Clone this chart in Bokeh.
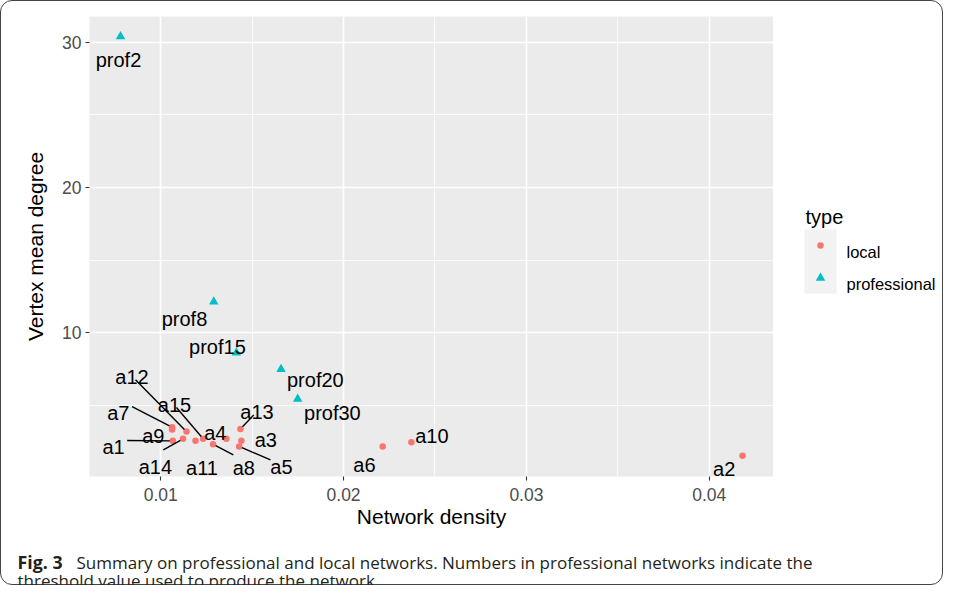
from bokeh.plotting import figure
from bokeh.layouts import column, row
from bokeh.models import Range1d, FixedTicker, ColumnDataSource
from bokeh.core.properties import value
from bokeh.embed import file_html
from bokeh.resources import INLINE

# ---------------- data ----------------
local_names = ["a1", "a2", "a3", "a4", "a5", "a6", "a7", "a8", "a9", "a10",
               "a11", "a12", "a13", "a14", "a15"]
local_density = [0.01066, 0.04182, 0.01441, 0.01359, 0.01429, 0.02214, 0.01062,
                 0.01286, 0.01062, 0.02371, 0.01190, 0.01141, 0.01436, 0.01122,
                 0.01232]
local_degree = [2.58, 1.55, 2.58, 2.72, 2.19, 2.19, 3.51, 2.35, 3.37, 2.49,
                2.58, 3.22, 3.40, 2.72, 2.72]

prof_names = ["prof2", "prof8", "prof15", "prof20", "prof30"]
prof_density = [0.00780, 0.01290, 0.01414, 0.01658, 0.01749]
prof_degree = [30.38, 12.14, 8.64, 7.50, 5.46]

x_ticks = [0.01, 0.02, 0.03, 0.04]
x_tick_labels = ["0.01", "0.02", "0.03", "0.04"]
x_minor = [0.015, 0.025, 0.035]
y_ticks = [10, 20, 30]
y_tick_labels = ["10", "20", "30"]
y_minor = [5, 15, 25]

legend_title = "type"
type_names = ["local", "professional"]
type_markers = ["circle", "triangle"]
type_colors = ["#F8766D", "#00BFC4"]

caption_head = "Fig. 3"
caption_lines = ["Summary on professional and local networks. Numbers in professional networks indicate the",
                 "threshold value used to produce the network"]

# label placement (screen px offsets from the point: text dx, dy; segment start)
label_layout = {
    "a1": (-59.3, 6.3, (-45.6, -0.3)),
    "a2": (-18.3, 13.3, None),
    "a3": (24.5, -1.0, None),
    "a4": (-11.0, -6.3, None),
    "a5": (42.3, 20.0, (31.3, 13.3)),
    "a6": (-18.3, 18.3, None),
    "a7": (-53.7, -14.8, (-40.0, -20.8)),
    "a8": (30.8, 23.4, (20.3, 10.7)),
    "a9": (-18.7, 6.5, None),
    "a10": (20.5, -6.6, None),
    "a11": (6.5, 27.3, None),
    "a12": (-54.5, -54.4, (-51.0, -51.7)),
    "a13": (16.5, -17.3, (13.3, -14.0)),
    "a14": (-27.7, 28.3, (-19.7, 11.0)),
    "a15": (-28.7, -34.0, (-26.7, -31.3)),
    "prof2": (-2.0, 23.3, None),
    "prof8": (-29.3, 17.6, None),
    "prof15": (-19.0, -6.2, None),
    "prof20": (34.3, 10.7, None),
    "prof30": (34.7, 14.3, None),
}

# ---------------- geometry ----------------
INNER_W, INNER_H = 943, 585
BL, BT = 89, 16
FW, FH = 684, 460
BB = 72
MAIN_W = BL + FW
MAIN_H = BT + FH + BB
x0, x1 = 0.006104, 0.043514
y0, y1 = 0.13, 31.76
fx = FW / (x1 - x0)
fy = FH / (y1 - y0)

FONT = "Liberation Sans"

p = figure(width=MAIN_W, height=MAIN_H, output_backend="svg", toolbar_location=None,
           title=None,
           x_range=Range1d(x0, x1), y_range=Range1d(y0, y1),
           min_border_left=BL, min_border_right=0,
           min_border_top=BT, min_border_bottom=BB,
           background_fill_color="#EBEBEB", border_fill_alpha=0,
           outline_line_color=None)

xt = FixedTicker(ticks=x_ticks, minor_ticks=x_minor)
yt = FixedTicker(ticks=y_ticks, minor_ticks=y_minor)
p.xaxis.ticker = xt
p.yaxis.ticker = yt
p.xgrid.ticker = xt
p.ygrid.ticker = yt
for g in (p.xgrid, p.ygrid):
    g.grid_line_color = "white"
    g.grid_line_width = 1.6
    g.minor_grid_line_color = "white"
    g.minor_grid_line_width = 0.8

p.xaxis.major_label_overrides = dict(zip(x_ticks, x_tick_labels))
p.yaxis.major_label_overrides = dict(zip(y_ticks, y_tick_labels))
for ax in (p.xaxis[0], p.yaxis[0]):
    ax.axis_line_color = None
    ax.major_tick_line_color = "#333333"
    ax.major_tick_line_width = 1.1
    ax.major_tick_in = 0
    ax.major_tick_out = 4
    ax.minor_tick_line_color = None
    ax.major_label_text_font = FONT
    ax.major_label_text_font_size = "17.5px"
    ax.major_label_text_color = "#4D4D4D"
    ax.axis_label_text_font = FONT
    ax.axis_label_text_font_size = "21px"
    ax.axis_label_text_font_style = "normal"
    ax.axis_label_text_color = "black"
p.xaxis.axis_label = "Network density"
p.yaxis.axis_label = "Vertex mean degree"
p.xaxis.major_label_standoff = 7
p.yaxis.major_label_standoff = 4
p.xaxis.axis_label_standoff = 1
p.yaxis.axis_label_standoff = 12

src_local = ColumnDataSource(dict(x=local_density, y=local_degree, name=local_names))
src_prof = ColumnDataSource(dict(x=prof_density, y=prof_degree, name=prof_names))
p.scatter("x", "y", source=src_local, marker=type_markers[0], size=6.5,
          fill_color=type_colors[0], line_color=None)
p.scatter("x", "y", source=src_prof, marker=type_markers[1], size=9.5,
          fill_color=type_colors[1], line_color=None)

all_names = local_names + prof_names
all_x = local_density + prof_density
all_y = local_degree + prof_degree
lx, ly, lt = [], [], []
sx0, sy0, sx1, sy1 = [], [], [], []
for n, x, y in zip(all_names, all_x, all_y):
    dx, dy, seg = label_layout[n]
    lx.append(x + dx / fx)
    ly.append(y - dy / fy)
    lt.append(n)
    if seg is not None:
        sdx, sdy = seg
        L = (sdx ** 2 + sdy ** 2) ** 0.5
        sh = 3.0 / L
        sx0.append(x + sdx / fx)
        sy0.append(y - sdy / fy)
        sx1.append(x + sdx * sh / fx)
        sy1.append(y - sdy * sh / fy)

p.segment(x0=sx0, y0=sy0, x1=sx1, y1=sy1, line_color="black", line_width=1.4)
p.text(x=lx, y=ly, text=lt, text_font=value(FONT), text_font_size="20px",
       text_color="black", text_align="center", text_baseline="alphabetic")

# ---------------- legend panel (figure pixel coordinates, y down) ----------------
LW = INNER_W - MAIN_W
lf = figure(width=LW, height=MAIN_H, output_backend="svg", toolbar_location=None,
            title=None,
            x_range=Range1d(0, LW), y_range=Range1d(BT + FH, BT),
            x_axis_type=None, y_axis_type=None,
            min_border_left=0, min_border_right=0,
            min_border_top=BT, min_border_bottom=BB,
            outline_line_color=None, border_fill_alpha=0, background_fill_alpha=0)
lf.grid.visible = False
key_left, key_w, key_top, key_h = 31, 32, 229, 32
lf.text(x=[key_left + 1], y=[key_top - 12.3], text=[legend_title], text_font=value(FONT),
        text_font_size="20px", text_color="black", text_baseline="alphabetic")
lf.quad(left=key_left, right=key_left + key_w, top=key_top,
        bottom=key_top + key_h * len(type_names), fill_color="#F2F2F2", line_color=None)
for i, (nm, mk, col) in enumerate(zip(type_names, type_markers, type_colors)):
    cy = key_top + key_h * (i + 0.5)
    lf.scatter(x=[key_left + key_w / 2], y=[cy + (0.5 if mk == "triangle" else 0)],
               marker=mk, size=(9.5 if mk == "triangle" else 6.5),
               fill_color=col, line_color=None)
    lf.text(x=[key_left + key_w + 10], y=[cy + 6.3], text=[nm], text_font=value(FONT),
            text_font_size="16.5px", text_color="black", text_baseline="alphabetic")

# ---------------- caption panel ----------------
CH = INNER_H - MAIN_H
cf = figure(width=INNER_W, height=CH, output_backend="svg", toolbar_location=None,
            title=None,
            x_range=Range1d(0, INNER_W), y_range=Range1d(CH, 0),
            x_axis_type=None, y_axis_type=None, min_border=0,
            outline_line_color=None, border_fill_alpha=0, background_fill_alpha=0)
cf.grid.visible = False
CFONT = "Open Sans"
cf.text(x=[17], y=[13.5], text=[caption_head], text_font=value(CFONT),
        text_font_size="17.8px", text_font_style="bold", text_color="#231F20",
        text_baseline="alphabetic")
cf.text(x=[76], y=[13.5], text=[caption_lines[0]], text_font=value(CFONT),
        text_font_size="17px", text_color="#231F20", text_baseline="alphabetic")
cf.text(x=[17], y=[31.5], text=[caption_lines[1]], text_font=value(CFONT),
        text_font_size="17px", text_color="#231F20", text_baseline="alphabetic")

layout = column(row(p, lf), cf,
                styles={"outline": "1.5px solid #444444", "outline-offset": "-1.5px",
                        "border-radius": "12px"})

open("out.html", "w").write(file_html(layout, INLINE))
